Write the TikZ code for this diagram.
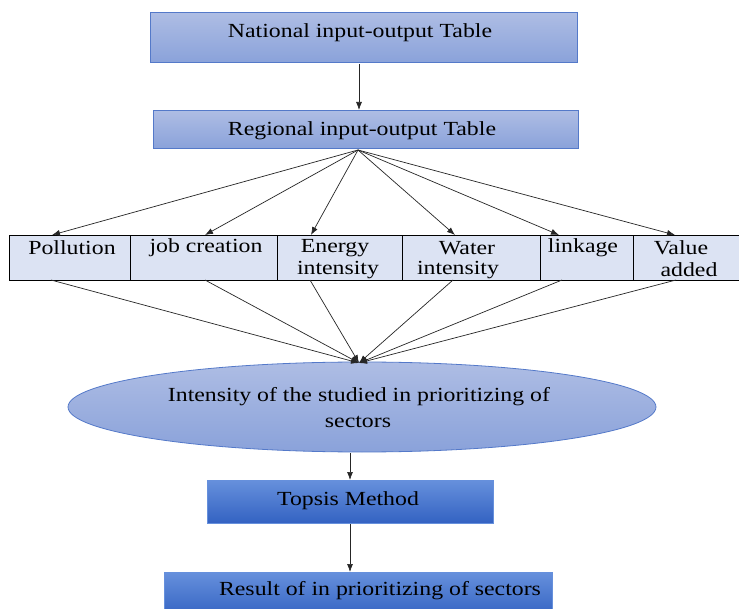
\documentclass[tikz,border=0pt]{standalone}
\usepackage{fontspec}
\setmainfont[FakeStretch=1.19]{Liberation Serif}
\usetikzlibrary{shapes.geometric,arrows.meta}
\definecolor{lbtop}{HTML}{AEBDE4}
\definecolor{lbbot}{HTML}{8AA2DA}
\definecolor{lbline}{HTML}{5479C9}
\definecolor{dbtop}{HTML}{6690DC}
\definecolor{dbbot}{HTML}{3362C2}
\definecolor{cellfill}{HTML}{DCE3F3}
\begin{document}
\begin{tikzpicture}[x=1pt,y=-1pt,
  font=\fontsize{20}{25}\selectfont,
  lightbox/.style={draw=lbline,line width=0.8pt,top color=lbtop,bottom color=lbbot,inner sep=0pt,anchor=north west},
  darkbox/.style={draw=dbtop,line width=0.6pt,top color=dbtop,bottom color=dbbot,inner sep=0pt,anchor=north west},
  cell/.style={draw=black,line width=0.8pt,fill=cellfill,inner sep=0pt,anchor=north west,minimum height=45pt},
  lbl/.style={inner sep=0pt,anchor=center},
  arr/.style={draw=black!85,line width=0.7pt,-{Latex[length=8pt,width=6pt]}}]
\useasboundingbox (0,0) rectangle (739,609);
\fill[white] (0,0) rectangle (739,609);
% top boxes
\node[lightbox,minimum width=427pt,minimum height=50pt] (nat) at (150,12) {};
\node[lbl] (natt) at (360,33) {National input-output Table};
\node[lightbox,minimum width=425pt,minimum height=38pt] (reg) at (153,110) {};
\node[lbl] (regt) at (362,131) {Regional input-output Table};
\draw[arr] (359,64) -- (359,110);
% table
\node[cell,minimum width=121.5pt] (c1) at (8.5,235) {};
\node[cell,minimum width=147pt] (c2) at (130,235) {};
\node[cell,minimum width=125pt] (c3) at (277,235) {};
\node[cell,minimum width=138pt] (c4) at (402,235) {};
\node[cell,minimum width=93pt] (c5) at (540,235) {};
\node[cell,minimum width=106pt] (c6) at (633,235) {};
\node[lbl] (l1) at (72,248) {Pollution};
\node[lbl] (l2) at (206,248) {job creation};
\node[lbl] (l3a) at (335,248) {Energy};
\node[lbl] (l3b) at (338,270) {intensity};
\node[lbl] (l4a) at (467,248) {Water};
\node[lbl] (l4b) at (458,270) {intensity};
\node[lbl] (l5) at (583,248) {linkage};
\node[lbl] (l6a) at (681,248) {Value};
\node[lbl] (l6b) at (689,270) {added};
\coordinate (rs) at (358,150);
\foreach \i/\x in {1/52,2/205,3/311,4/455,5/559,6/675}{
  \coordinate (t\i) at (\x,235);
  \draw[arr] (rs) -- (t\i);
}
% ellipse
\node[ellipse,draw=lbline,line width=0.8pt,top color=lbtop,bottom color=lbbot,minimum width=588pt,minimum height=90pt,inner sep=0pt] (ell) at (362,407) {};
\node[lbl] (e1) at (359,397) {Intensity of the studied in prioritizing of};
\node[lbl] (e2) at (358,422) {sectors};
\coordinate (conv) at (359,363);
\foreach \i/\x in {1/51,2/205,3/310,4/453,5/562,6/676}{
  \coordinate (b\i) at (\x,280);
  \draw[arr] (b\i) -- (conv);
}
% bottom boxes
\node[darkbox,minimum width=286pt,minimum height=43pt] (top) at (207,480) {};
\node[lbl] (topt) at (348,501) {Topsis Method};
\draw[arr] (350,453) -- (350,480);
\node[darkbox,minimum width=388pt,minimum height=45pt] (res) at (164,572) {};
\node[lbl] (rest) at (380,591) {Result of in prioritizing of sectors};
\draw[arr] (350,524) -- (350,572);
\end{tikzpicture}
\end{document}
